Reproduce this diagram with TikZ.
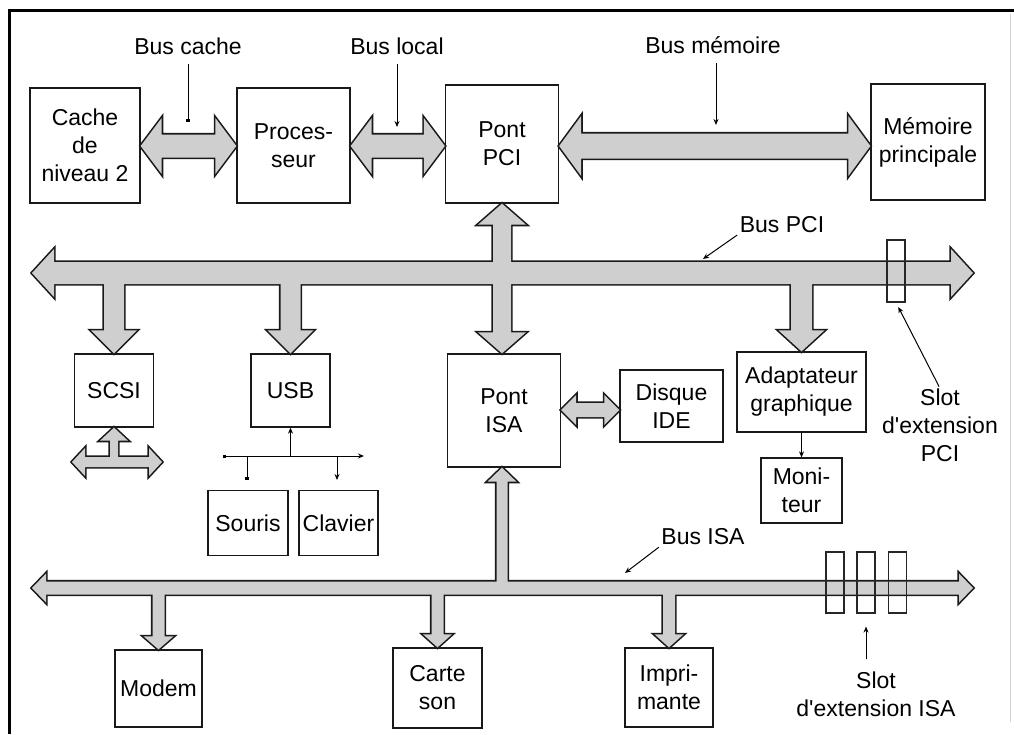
\documentclass[tikz,border=0pt]{standalone}
\usepackage{fontspec}
\setmainfont{Liberation Sans}[Ligatures=TeXOff]
\usetikzlibrary{calc,arrows.meta}

% horizontal double block arrow: style, left tip, right tip, shaft half, head half, head length
\newcommand\HBus[6]{\path[#1] (#2) -- ([xshift=#6pt,yshift=#5pt]#2) -- ([xshift=#6pt,yshift=#4pt]#2) -- ([xshift=-#6pt,yshift=#4pt]#3) -- ([xshift=-#6pt,yshift=#5pt]#3) -- (#3) -- ([xshift=-#6pt,yshift=-#5pt]#3) -- ([xshift=-#6pt,yshift=-#4pt]#3) -- ([xshift=#6pt,yshift=-#4pt]#2) -- ([xshift=#6pt,yshift=-#5pt]#2) -- cycle;}
% vertical double block arrow: style, top tip, bottom tip, shaft half, head half, head length
\newcommand\VBus[6]{\path[#1] (#2) -- ([xshift=#5pt,yshift=-#6pt]#2) -- ([xshift=#4pt,yshift=-#6pt]#2) -- ([xshift=#4pt,yshift=#6pt]#3) -- ([xshift=#5pt,yshift=#6pt]#3) -- (#3) -- ([xshift=-#5pt,yshift=#6pt]#3) -- ([xshift=-#4pt,yshift=#6pt]#3) -- ([xshift=-#4pt,yshift=-#6pt]#2) -- ([xshift=-#5pt,yshift=-#6pt]#2) -- cycle;}
% vertical single block arrow: style, start, tip, shaft half, head half, signed head length
\newcommand\VDrop[6]{\path[#1] ([xshift=-#4pt]#2) -- ([xshift=-#4pt,yshift=#6pt]#3) -- ([xshift=-#5pt,yshift=#6pt]#3) -- (#3) -- ([xshift=#5pt,yshift=#6pt]#3) -- ([xshift=#4pt,yshift=#6pt]#3) -- ([xshift=#4pt]#2) -- cycle;}

\newcommand\AllBuses[1]{%
  \HBus{#1}{cb1}{cb2}{11.5}{28}{21}%
  \HBus{#1}{lb1}{lb2}{11.5}{28}{21}%
  \HBus{#1}{mb1}{mb2}{12.5}{30}{22}%
  \HBus{#1}{pciL}{pciR}{11}{24}{22}%
  \VBus{#1}{v1}{v2}{9}{24}{21}%
  \VDrop{#1}{d1}{scsi.north}{10}{23}{23}%
  \VDrop{#1}{d2}{usb.north}{10}{23}{23}%
  \VDrop{#1}{d3}{adap.north}{10.5}{23}{21}%
  \HBus{#1}{sl}{sr}{5}{14}{13}%
  \VDrop{#1}{s1}{scsi.south}{4}{14}{-13}%
  \HBus{#1}{ib1}{ib2}{7}{15}{15}%
  \HBus{#1}{isaL}{isaR}{6.5}{14.5}{14}%
  \VDrop{#1}{u1}{u2}{5.5}{14.5}{-14}%
  \VDrop{#1}{m1}{modem.north}{6}{15}{13}%
  \VDrop{#1}{m2}{carte.north}{6}{14.5}{13}%
  \VDrop{#1}{m3}{impr.north}{6}{14.5}{13}%
}

\tikzset{
  box/.style={draw=black!90, line width=1.3pt, inner sep=0pt, align=center, fill=white},
  slot/.style={draw=black!85, line width=1.1pt, inner sep=0pt},
  lbl/.style={inner sep=0pt, align=center},
  busout/.style={draw=black!90, line width=3.2pt, line join=miter},
  busfill/.style={fill=gray!38},
  ptr/.style={line width=1pt, -{Stealth[length=6pt,width=5pt]}},
  ptrdot/.style={line width=1pt, -{Square[length=3.5pt,width=3.5pt]}},
}

\begin{document}
\begin{tikzpicture}[x=1pt,y=-1pt,font=\fontsize{23}{28}\selectfont]
\useasboundingbox (0,0) rectangle (1014,734);
\fill[white] (0,0) rectangle (1014,734);

% frame
\draw[line width=3pt] (9,734) -- (9,10) -- (1014,10);
\draw[black!18, line width=0.8pt] (1010,14) -- (1010,722);

% boxes
\node[box, minimum width=110pt, minimum height=115pt] (cache) at (85,145.5) {Cache\\de\\niveau 2};
\node[box, minimum width=113pt, minimum height=115pt] (proc) at (293.5,145.5) {Proces-\\seur};
\node[box, minimum width=113pt, minimum height=118pt] (pcib) at (502,144) {Pont\\PCI};
\node[box, minimum width=114pt, minimum height=116pt] (mem) at (928,142) {Mémoire\\principale};
\node[box, minimum width=79pt, minimum height=73pt] (scsi) at (114,390.5) {SCSI};
\node[box, minimum width=79pt, minimum height=73pt] (usb) at (290.5,390.5) {USB};
\node[box, minimum width=113pt, minimum height=113pt] (isab) at (504,410.5) {Pont\\ISA};
\node[box, minimum width=103pt, minimum height=72pt] (ide) at (671.5,406) {Disque\\IDE};
\node[box, minimum width=129pt, minimum height=80pt] (adap) at (801.5,392) {Adaptateur\\graphique};
\node[box, minimum width=81pt, minimum height=65pt] (moni) at (801.5,490.5) {Moni-\\teur};
\node[box, minimum width=80pt, minimum height=65pt] (souris) at (248,523) {Souris};
\node[box, minimum width=79pt, minimum height=65pt] (clavier) at (338.5,523) {Clavier};
\node[box, minimum width=87pt, minimum height=77pt] (modem) at (158.5,688.5) {Modem};
\node[box, minimum width=89pt, minimum height=80pt] (carte) at (437.5,688) {Carte\\son};
\node[box, minimum width=88pt, minimum height=79pt] (impr) at (669,687.5) {Impri-\\mante};

% bus geometry
\coordinate (yb) at (0,146);
\coordinate (cb1) at (cache.east |- yb);
\coordinate (cb2) at (proc.west |- yb);
\coordinate (lb1) at (proc.east |- yb);
\coordinate (lb2) at (pcib.west |- yb);
\coordinate (mb1) at (pcib.east |- yb);
\coordinate (mb2) at (mem.west |- yb);
\coordinate (pciL) at (32,273);
\coordinate (pciR) at (973,273);
\coordinate (isaL) at (32,588);
\coordinate (isaR) at (973,588);
\coordinate (v1) at (pcib.south);
\coordinate (v2) at (pcib.south |- isab.north);
\coordinate (u2) at (pcib.south |- isab.south);
\coordinate (u1) at (u2 |- isaL);
\coordinate (d1) at (scsi.north |- pciL);
\coordinate (d2) at (usb.north |- pciL);
\coordinate (d3) at (adap.north |- pciL);
\coordinate (sl) at (72,462);
\coordinate (sr) at (162,462);
\coordinate (s1) at (scsi.south |- sl);
\coordinate (ib1) at (isab.east |- 0,410);
\coordinate (ib2) at (ide.west |- 0,410);
\coordinate (m1) at (modem.north |- isaL);
\coordinate (m2) at (carte.north |- isaL);
\coordinate (m3) at (impr.north |- isaL);

\AllBuses{busout}
\AllBuses{busfill}

% slots
\node[slot, minimum width=18pt, minimum height=62pt] (slotp) at (896,271) {};
\node[slot, minimum width=18pt, minimum height=61pt] (slot1) at (835,582.5) {};
\node[slot, minimum width=18pt, minimum height=61pt] (slot2) at (866,582.5) {};
\node[slot, minimum width=18pt, minimum height=61pt] (slot3) at (897.5,582.5) {};

% labels
\node[lbl] (lcache) at (188,46) {Bus cache};
\node[lbl] (llocal) at (397,46) {Bus local};
\node[lbl] (lmem) at (713,45) {Bus mémoire};
\node[lbl] (lpci) at (782,225) {Bus PCI};
\node[lbl] (lisa) at (703,537) {Bus ISA};
\node[lbl] (lslotp) at (940,425) {Slot\\d'extension\\PCI};
\node[lbl] (lsloti) at (876,694) {Slot\\d'extension ISA};

% pointers
\coordinate (pc) at (188,122);
\coordinate (pl) at (397,127);
\coordinate (pm) at (716,125);
\coordinate (ppci) at (703,259);
\coordinate (pisa) at (625,573);
\draw[ptrdot, shorten <=9pt] (lcache.south) -- (pc);
\draw[ptr, shorten <=9pt] (llocal.south) -- (pl);
\draw[ptr, shorten <=9pt] (pm |- lmem.south) -- (pm);
\draw[ptr, shorten <=3pt] (lpci.south west) -- (ppci);
\draw[ptr, shorten <=3pt] (lisa.south west) -- (pisa);
\draw[ptr, shorten <=2pt, shorten >=5pt] (lslotp.north) -- (slotp.south);
\draw[ptr, shorten <=12pt, shorten >=13pt] (slot2.south |- lsloti.north) -- (slot2.south);

% USB tree
\coordinate (ut) at (usb.south |- 0,456);
\coordinate (ul) at (223,456);
\coordinate (ur) at (364,456);
\coordinate (ud1) at (247,456);
\coordinate (ud1e) at (247,480);
\coordinate (ud2) at (337,456);
\coordinate (ud2e) at (337,480);
\draw[line width=1pt, {Square[length=3pt,width=3pt]}-{Stealth[length=6pt,width=5pt]}] (ul) -- (ur);
\draw[ptr] (ut) -- (usb.south);
\draw[ptrdot] (ud1) -- (ud1e);
\draw[ptr] (ud2) -- (ud2e);

% adapter to monitor
\draw[ptr] (adap.south) -- (moni.north);
\end{tikzpicture}
\end{document}
